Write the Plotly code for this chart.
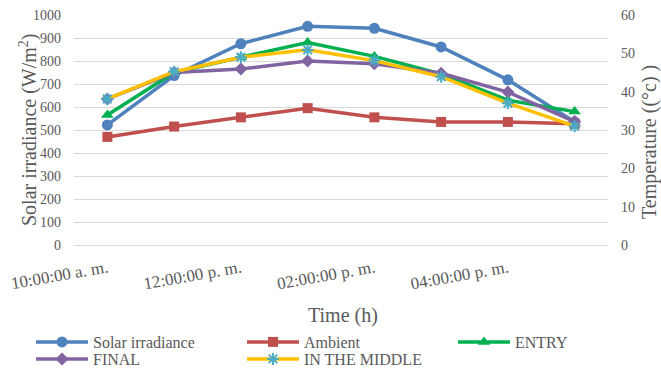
import plotly.graph_objects as go

times = ["10:00:00 a. m.", "11:00:00 a. m.", "12:00:00 p. m.", "01:00:00 p. m.",
         "02:00:00 p. m.", "03:00:00 p. m.", "04:00:00 p. m.", "05:00:00 p. m."]
tick_labels = ["10:00:00 a. m.", "12:00:00 p. m.", "02:00:00 p. m.", "04:00:00 p. m."]

solar = [522, 737, 875, 951, 942, 861, 718, 535]
ambient = [28.2, 30.9, 33.3, 35.7, 33.3, 32.1, 32.1, 31.6]
entry = [33.9, 45.0, 49.0, 52.8, 49.2, 44.6, 37.8, 34.8]
final = [38.1, 45.0, 45.9, 48.0, 47.3, 44.8, 39.9, 32.2]
middle = [38.1, 45.2, 49.0, 50.9, 48.1, 43.9, 37.0, 31.0]

FONT = "Liberation Serif"
GRAY = "#595959"

fig = go.Figure()
fig.add_trace(go.Scatter(x=times, y=solar, name="Solar irradiance", mode="lines+markers",
                         line=dict(color="#4F81BD", width=3.5),
                         marker=dict(symbol="circle", size=11, color="#4F81BD"),
                         legend="legend"))
fig.add_trace(go.Scatter(x=times, y=ambient, name="Ambient", mode="lines+markers", yaxis="y2",
                         line=dict(color="#C0504D", width=3.5),
                         marker=dict(symbol="square", size=10, color="#C0504D"),
                         legend="legend"))
fig.add_trace(go.Scatter(x=times, y=entry, name="ENTRY", mode="lines+markers", yaxis="y2",
                         line=dict(color="#00B050", width=3.5),
                         marker=dict(symbol="triangle-up", size=11, color="#00B050"),
                         legend="legend3"))
fig.add_trace(go.Scatter(x=times, y=final, name="FINAL", mode="lines+markers", yaxis="y2",
                         line=dict(color="#8064A2", width=3.5),
                         marker=dict(symbol="diamond", size=10, color="#8064A2"),
                         legend="legend2"))
fig.add_trace(go.Scatter(x=times, y=middle, name="IN THE MIDDLE", mode="lines+markers", yaxis="y2",
                         line=dict(color="#FFC000", width=3.5),
                         marker=dict(symbol="asterisk-open", size=10, color="#4BACC6",
                                     line=dict(color="#4BACC6", width=2)),
                         legend="legend2"))

legend_common = dict(orientation="h", xref="container", yref="container",
                     xanchor="left", yanchor="middle", entrywidth=144, entrywidthmode="pixels",
                     itemwidth=52, font=dict(family=FONT, size=16, color=GRAY),
                     bgcolor="rgba(0,0,0,0)", borderwidth=0, tracegroupgap=0,
                     itemclick=False, itemdoubleclick=False, traceorder="normal")

fig.update_layout(
    width=661, height=369,
    margin=dict(l=74, r=53, t=15, b=124, autoexpand=False),
    paper_bgcolor="white", plot_bgcolor="white",
    font=dict(family=FONT, color=GRAY, size=14),
    showlegend=True,
    legend=dict(x=31 / 661, y=1 - 342 / 369, **legend_common),
    legend2=dict(x=31 / 661, y=1 - 359 / 369, **legend_common),
    legend3=dict(x=453 / 661, y=1 - 342 / 369, **legend_common),
    xaxis=dict(type="category", range=[-0.5, 7.5], tickvals=tick_labels, ticktext=tick_labels,
               tickangle=-10, tickfont=dict(size=17, family=FONT, color=GRAY),
               showgrid=False, showline=True, linecolor="#D9D9D9", linewidth=1,
               ticks="", ticklabelstandoff=6, zeroline=False),
    yaxis=dict(range=[0, 1000], dtick=100, tick0=0, showgrid=True, gridcolor="#D9D9D9",
               gridwidth=1, zeroline=False, showline=False, ticks="",
               ticklabelstandoff=12, tickfont=dict(size=14, family=FONT, color=GRAY)),
    yaxis2=dict(range=[0, 60], dtick=10, tick0=0, overlaying="y", side="right",
                showgrid=False, zeroline=False, showline=False, ticks="",
                ticklabelstandoff=12, tickfont=dict(size=14, family=FONT, color=GRAY)),
    annotations=[
        dict(text="Solar irradiance (W/m<sup>2</sup>)", xref="paper", yref="paper",
             x=(28 - 74) / 534, y=0.5, textangle=-90, showarrow=False,
             xanchor="center", yanchor="middle", font=dict(size=20, family=FONT, color=GRAY)),
        dict(text="Temperature ((°c) )", xref="paper", yref="paper",
             x=(649 - 74) / 534, y=(244.7 - 142) / 229.4, textangle=-90, showarrow=False,
             xanchor="center", yanchor="middle", font=dict(size=20, family=FONT, color=GRAY)),
        dict(text="Time (h)", xref="paper", yref="paper",
             x=(343 - 74) / 534, y=(244.7 - 315) / 229.4, showarrow=False,
             xanchor="center", yanchor="middle", font=dict(size=20, family=FONT, color=GRAY)),
    ],
)

fig.write_html("out.html")
